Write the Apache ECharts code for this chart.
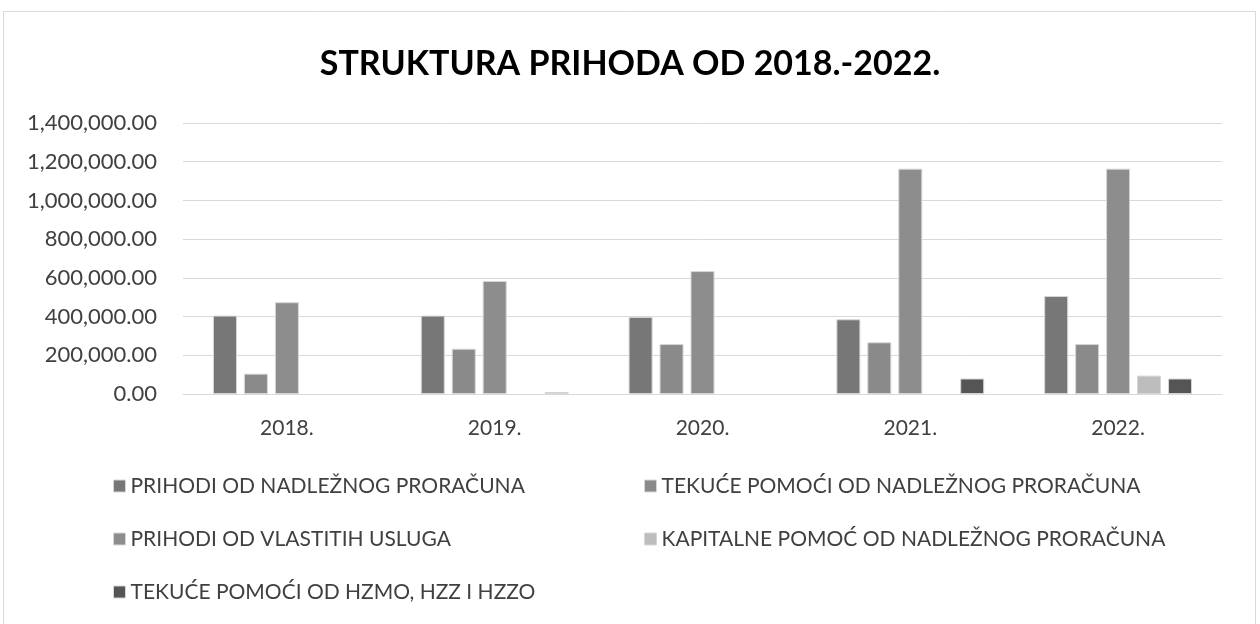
<!DOCTYPE html>
<html>
<head>
<meta charset="utf-8">
<script src="https://cdn.jsdelivr.net/npm/echarts@6/dist/echarts.min.js"></script>
<style>
html,body{margin:0;padding:0;background:#fff;}
#chart{width:1260px;height:624px;}
</style>
</head>
<body>
<div id="chart"></div>
<script>
const categories = ['2018.', '2019.', '2020.', '2021.', '2022.'];
const seriesNames = [
  'PRIHODI OD NADLEŽNOG PRORAČUNA',
  'TEKUĆE POMOĆI OD NADLEŽNOG PRORAČUNA',
  'PRIHODI OD VLASTITIH USLUGA',
  'KAPITALNE POMOĆ OD NADLEŽNOG PRORAČUNA',
  'TEKUĆE POMOĆI OD HZMO, HZZ I HZZO'
];
// null = no bar in that year
const prihodiNadleznog = [405000, 405000, 398000, 386000, 506000];
const tekucePomociNadleznog = [105000, 234000, 258000, 267000, 258000];
const vlastitihUsluga = [474000, 584000, 635000, 1164000, 1164000];
const kapitalnePomoc = [null, null, null, null, 95000];
const tekucePomociHzmo = [null, 10000, null, 80000, 80000];
const yTicks = [0, 200000, 400000, 600000, 800000, 1000000, 1200000, 1400000];

const colors = ['#777777', '#8a8a8a', '#8d8d8d', '#bdbdbd', '#555555'];
const values = [prihodiNadleznog, tekucePomociNadleznog, vlastitihUsluga, kapitalnePomoc, tekucePomociHzmo];
const FONT = 'Lato';

const chart = echarts.init(document.getElementById('chart'), null, {renderer: 'canvas'});
const legendText = {fontFamily: FONT, fontSize: 21, color: '#404040', lineHeight: 24};
const option = {
  backgroundColor: '#fff',
  animation: false,
  title: {
    text: 'STRUKTURA PRIHODA OD 2018.-2022.',
    left: 'center',
    top: 42,
    textStyle: {fontFamily: FONT, fontWeight: 'bold', fontSize: 34, color: '#000'}
  },
  graphic: [{
    type: 'rect',
    shape: {x: 3.5, y: 11.5, width: 1252, height: 640},
    style: {fill: 'none', stroke: '#d9d9d9', lineWidth: 1},
    silent: true
  }],
  legend: [{
    orient: 'vertical',
    left: 113,
    top: 474,
    padding: 0,
    itemWidth: 12,
    itemHeight: 12,
    itemGap: 29,
    icon: 'rect',
    itemStyle: {borderColor: '#d6d6d6', borderWidth: 1},
    textStyle: legendText,
    data: [seriesNames[0], seriesNames[2], seriesNames[4]]
  }, {
    orient: 'vertical',
    left: 644,
    top: 474,
    padding: 0,
    itemWidth: 12,
    itemHeight: 12,
    itemGap: 29,
    icon: 'rect',
    itemStyle: {borderColor: '#d6d6d6', borderWidth: 1},
    textStyle: legendText,
    data: [seriesNames[1], seriesNames[3]]
  }],
  grid: {left: 183, right: 38, top: 123, bottom: 230, containLabel: false},
  xAxis: {
    type: 'category',
    data: categories,
    axisLine: {show: true, lineStyle: {color: '#d9d9d9', width: 1}},
    axisTick: {show: false},
    axisLabel: {fontFamily: FONT, fontSize: 21, color: '#404040', margin: 24}
  },
  yAxis: {
    type: 'value',
    min: 0,
    max: yTicks[yTicks.length - 1],
    interval: yTicks[1] - yTicks[0],
    axisLine: {show: false},
    axisTick: {show: false},
    splitLine: {lineStyle: {color: '#d9d9d9', width: 1}},
    axisLabel: {
      fontFamily: FONT, fontSize: 22, color: '#404040', margin: 26,
      formatter: v => v.toLocaleString('en-US', {minimumFractionDigits: 2, maximumFractionDigits: 2})
    }
  },
  series: seriesNames.map((name, i) => ({
    name: name,
    type: 'bar',
    data: values[i],
    barWidth: 24,
    barGap: '29%',
    itemStyle: {color: colors[i], borderColor: '#d6d6d6', borderWidth: 1}
  }))
};
chart.setOption(option);
</script>
</body>
</html>
